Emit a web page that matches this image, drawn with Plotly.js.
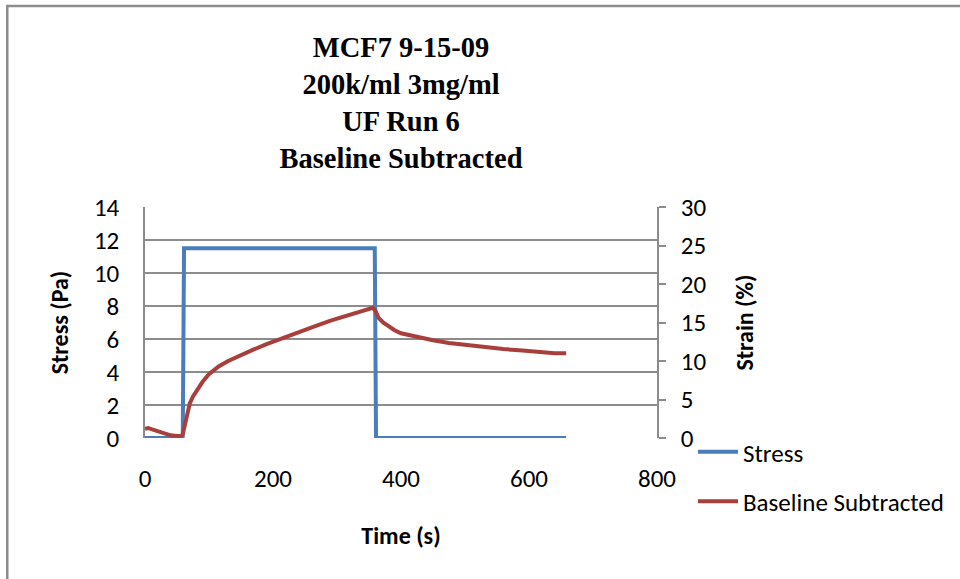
<!DOCTYPE html>
<html>
<head>
<meta charset="utf-8">
<script src="https://cdn.plot.ly/plotly-3.0.1.min.js"></script>
<style>
  html, body { margin: 0; padding: 0; background: #fff; }
  #chart { width: 960px; height: 579px; }
</style>
</head>
<body>
<div id="chart"></div>
<script>
// Stress (Pa), left axis
const stressTime = [0, 59, 61, 359, 361, 658];
const stressValues = [0, 0, 11.5, 11.5, 0, 0];

// Baseline subtracted strain (%), right axis
const strainTime = [0, 5, 10, 20, 30, 40, 50, 57, 59, 61, 63, 66, 70, 75, 80, 90, 100, 115, 130, 150, 170, 190, 215, 240, 265, 290, 315, 340, 356, 360, 365, 372, 380, 390, 400, 415, 430, 450, 475, 500, 530, 560, 590, 620, 640, 658];
const strainValues = [1.2, 1.3, 1.15, 0.85, 0.55, 0.35, 0.25, 0.25, 0.5, 1.2, 2.4, 3.5, 4.5, 5.4, 6.1, 7.3, 8.3, 9.3, 10.0, 10.8, 11.5, 12.2, 13.0, 13.8, 14.5, 15.25, 15.9, 16.5, 16.9, 16.5, 15.6, 15.0, 14.5, 14.0, 13.6, 13.3, 13.0, 12.7, 12.35, 12.1, 11.8, 11.55, 11.35, 11.1, 11.0, 11.0];

const titleLines = ["MCF7 9-15-09", "200k/ml 3mg/ml", "UF Run 6", "Baseline Subtracted"];
const seriesNames = ["Stress", "Baseline Subtracted"];

const FONT = "Carlito, Lato, 'Open Sans', sans-serif";
const GRID = "#8c8c8c";

const traces = [
  {
    x: stressTime, y: stressValues, name: seriesNames[0], type: "scatter", mode: "lines",
    line: { color: "#4a7ebb", width: 4 }, yaxis: "y", legendgroup: "a"
  },
  {
    x: strainTime, y: strainValues, name: seriesNames[1], type: "scatter", mode: "lines",
    line: { color: "#a83f3c", width: 4 }, yaxis: "y2", legendgroup: "b"
  }
];

const L = 145, R = 658, T = 207, B = 438;
const px = X => (X - L) / (R - L);
const py = Y => (B - Y) / (B - T);

const layout = {
  width: 960, height: 579,
  margin: { l: L, r: 960 - R, t: T, b: 579 - B },
  paper_bgcolor: "#ffffff", plot_bgcolor: "#ffffff",
  showlegend: true,
  font: { family: FONT, color: "#000" },
  title: {
    text: titleLines.join("<br>"),
    font: { family: "'Liberation Serif', 'DejaVu Serif', serif", size: 28.5, weight: "bold", color: "#000" },
    x: 0.5, xref: "paper", xanchor: "center",
    y: 1 - 57 / 579, yanchor: "top", yref: "container"
  },
  xaxis: {
    range: [0, 800], dtick: 200, tick0: 0,
    showgrid: false, zeroline: false, showline: false,
    ticks: "", ticklabelstandoff: 23,
    tickfont: { family: FONT, size: 25, color: "#000" },
    title: { text: "Time (s)", font: { family: FONT, size: 24, weight: "bold", color: "#000" }, standoff: 34 }
  },
  yaxis: {
    range: [0, 14], dtick: 2, tick0: 0,
    showgrid: true, gridcolor: GRID, gridwidth: 1.5,
    zeroline: false, showline: true, linecolor: GRID, linewidth: 1.5,
    ticks: "", ticklabelstandoff: 19,
    tickfont: { family: FONT, size: 25, color: "#000" },
    title: { text: "Stress (Pa)", font: { family: FONT, size: 24, weight: "bold", color: "#000" }, standoff: 19 }
  },
  yaxis2: {
    range: [0, 30], dtick: 5, tick0: 0,
    overlaying: "y", side: "right",
    showgrid: false, zeroline: false, showline: true, linecolor: GRID, linewidth: 1.5,
    ticks: "outside", ticklen: 7, tickcolor: GRID, tickwidth: 1.5,
    ticklabelstandoff: 10,
    tickfont: { family: FONT, size: 25, color: "#000" },
    title: { text: "Strain (%)", font: { family: FONT, size: 24, weight: "bold", color: "#000" }, standoff: 31 }
  },
  legend: {
    x: px(693), xanchor: "left", y: py(429), yanchor: "top",
    font: { family: FONT, size: 25, color: "#000" },
    bgcolor: "rgba(0,0,0,0)", borderwidth: 0,
    traceorder: "grouped", tracegroupgap: 14, itemwidth: 40
  },
  shapes: [
    { type: "line", xref: "paper", yref: "paper", x0: px(7), x1: px(7), y0: py(5), y1: py(600), line: { color: "#8c8c8c", width: 2.5 } },
    { type: "line", xref: "paper", yref: "paper", x0: px(6), x1: px(980), y0: py(6), y1: py(6), line: { color: "#8c8c8c", width: 2.5 } }
  ]
};

Plotly.newPlot("chart", traces, layout, { displayModeBar: false, responsive: false });
</script>
</body>
</html>
